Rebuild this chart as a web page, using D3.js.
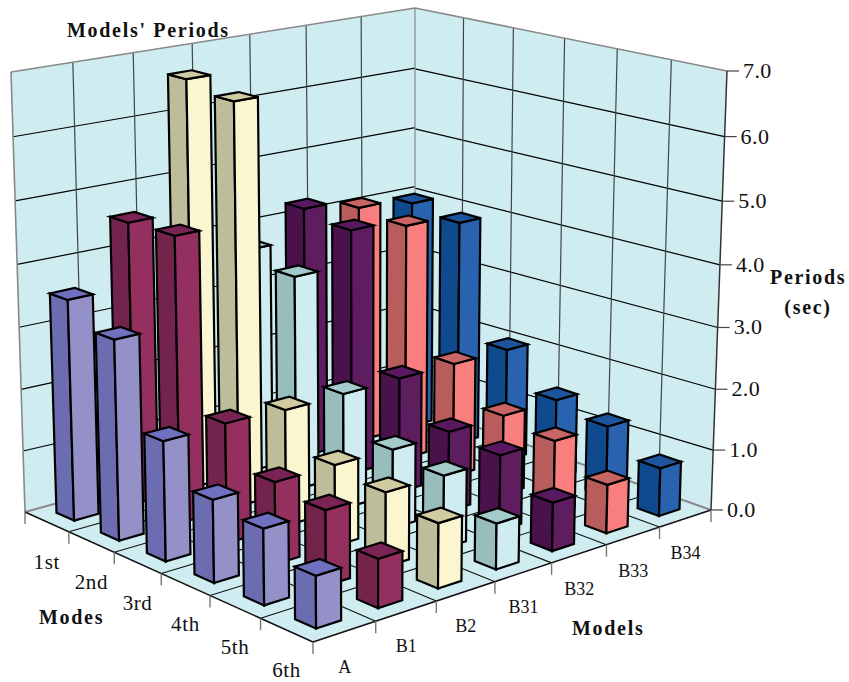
<!DOCTYPE html>
<html><head><meta charset="utf-8">
<style>html,body{margin:0;padding:0;background:#fff}svg{display:block}text{font-family:"Liberation Serif",serif;fill:#111}</style>
<script src="https://cdnjs.cloudflare.com/ajax/libs/d3/7.8.5/d3.min.js"></script>
</head><body><script>
const models=["A","B1","B2","B31","B32","B33","B34"];
const modes=["1st","2nd","3rd","4th","5th","6th"];
const seriesA=[3.56,3.2,1.9,1.3,1.18,0.8];
const seriesB1=[4.57,4.6,1.92,1.3,1.18,0.76];
const seriesB2=[6.65,6.5,1.88,1.3,1.18,1.02];
const seriesB31=[3.72,3.53,1.89,1.28,1.17,0.73];
const seriesB32=[4.2,4.08,1.9,1.31,1.23,0.78];
const seriesB33=[4.02,3.95,1.9,1.32,1.2,0.79];
const seriesB34=[3.9,3.8,1.9,1.33,1.18,0.79];
const allSeries=[seriesA,seriesB1,seriesB2,seriesB31,seriesB32,seriesB33,seriesB34];
const valueTicks=[0,1,2,3,4,5,6,7];
const leftFaces=["#6C6CB0","#72244C","#BDBD99","#97BDBD","#4A124A","#B85C5C","#104A8E"];
const rightFaces=["#9490C8","#93305F","#FBF6D0","#CFEDF0","#5E1D5E","#F97F7F","#2962AE"];
const topFaces=["#7070C0","#7A2455","#D0CBA0","#A3CBCB","#5A1860","#C96565","#1C559E"];

const W=849,H=682;
const svg=d3.select("body").append("svg").attr("width",W).attr("height",H);
// picture-plane anchors
const F=[313,642],R=[711,510],L=[25,512],Bf=[415,405],Bw=[415,417],L7=[11,72],B7=[415,8],R7=[727,71];
function quad(p0,p1,p2,p3){
  const dx1=p1[0]-p2[0],dx2=p3[0]-p2[0],sx=p0[0]-p1[0]+p2[0]-p3[0];
  const dy1=p1[1]-p2[1],dy2=p3[1]-p2[1],sy=p0[1]-p1[1]+p2[1]-p3[1];
  const den=dx1*dy2-dx2*dy1,g=(sx*dy2-dx2*sy)/den,h=(dx1*sy-sx*dy1)/den;
  return {a:p1[0]-p0[0]+g*p1[0],b:p3[0]-p0[0]+h*p3[0],c:p0[0],d:p1[1]-p0[1]+g*p1[1],e:p3[1]-p0[1]+h*p3[1],f:p0[1],g,h};
}
const ap=(m,u,v)=>{const w=m.g*u+m.h*v+1;return [(m.a*u+m.b*v+m.c)/w,(m.d*u+m.e*v+m.f)/w];};
const floorM=quad(F,R,Bf,L);
const leftWall=quad(L,Bw,B7,L7);
const rightWall=quad(Bw,R,R7,B7);
// vertical direction of the projection, fitted to the wall top corners
const yMax=7;
function fitV(){
  const pts=[[0,1,L7],[1,1,B7],[1,0,R7]];const A=[],bb=[];
  pts.forEach(([u,w,t])=>{
    const X=floorM.a*u+floorM.b*w+floorM.c,Y=floorM.d*u+floorM.e*w+floorM.f,Wv=floorM.g*u+floorM.h*w+1;
    A.push([yMax,0,-t[0]*yMax]);bb.push(t[0]*Wv-X);
    A.push([0,yMax,-t[1]*yMax]);bb.push(t[1]*Wv-Y);
  });
  const N=[0,1,2].map(i=>[0,1,2].map(j=>d3.sum(A,r=>r[i]*r[j])).concat(d3.sum(A,(r,k)=>r[i]*bb[k])));
  for(let i=0;i<3;i++){for(let k=i+1;k<3;k++){const f=N[k][i]/N[i][i];for(let j=i;j<4;j++)N[k][j]-=f*N[i][j];}}
  const x=[0,0,0];for(let i=2;i>=0;i--){let s=N[i][3];for(let j=i+1;j<3;j++)s-=N[i][j]*x[j];x[i]=s/N[i][i];}
  return x;
}
const vv=fitV();
const proj=(u,w,y)=>{const m=floorM,d=m.g*u+m.h*w+1+y*vv[2];
  return [(m.a*u+m.b*w+m.c+y*vv[0])/d,(m.d*u+m.e*w+m.f+y*vv[1])/d];};

const yScale=d3.scaleLinear().domain([0,7]).range([0,1]);
const modelEdge=d3.scaleBand().domain(models).range([0,1]);
const modeEdge=d3.scaleBand().domain(modes).range([1,0]);
const PAD=0.6;
const modelBar=d3.scaleBand().domain(models).range([0,1]).paddingInner(PAD).paddingOuter(PAD/2);
const modeBar=d3.scaleBand().domain(modes).range([1,0]).paddingInner(PAD).paddingOuter(PAD/2);
const lineGen=d3.line();
const poly=(sel,pts,fill,stroke,sw)=>sel.append("path").attr("d",lineGen(pts)+"Z").attr("fill",fill).attr("stroke",stroke||"none").attr("stroke-width",sw||0).attr("stroke-linejoin","miter");
const seg=(sel,a,b,stroke,sw)=>sel.append("path").attr("d",lineGen([a,b])).attr("fill","none").attr("stroke",stroke).attr("stroke-width",sw);
const WALL="#CFEDF0";

// walls
const walls=svg.append("g");
poly(walls,[L,Bw,B7,L7],WALL);
poly(walls,[Bw,R,R7,B7],WALL);
valueTicks.forEach(t=>{
  const v=yScale(t);
  if(t>0&&t<7){
    seg(walls,ap(leftWall,0,v),ap(leftWall,1,v),"#000",1.2);
    seg(walls,ap(rightWall,0,v),ap(rightWall,1,v),"#000",1.2);
  }
});
const step=modelEdge.bandwidth(),stepM=modeEdge.bandwidth();
models.forEach((m,i)=>{if(i<models.length-1){const u=modelEdge(m)+step;seg(walls,ap(leftWall,u,0),ap(leftWall,u,1),"#444",1.2);}});
modes.forEach((m,i)=>{if(i<modes.length-1){const u=1-modeEdge(m);seg(walls,ap(rightWall,u,0),ap(rightWall,u,1),"#444",1.2);}});
seg(walls,L7,B7,"#888",1.6);seg(walls,B7,R7,"#888",1.6);seg(walls,L,L7,"#888",1.6);seg(walls,Bw,B7,"#888",1.2);

// floor
const floorG=svg.append("g");
poly(floorG,[F,R,Bf,L],WALL);
models.forEach((m,i)=>{if(i<models.length-1){const u=modelEdge(m)+step;seg(floorG,ap(floorM,u,0),ap(floorM,u,1),"#111",1.1);}});
modes.forEach((m,i)=>{if(i<modes.length-1){const w=modeEdge(m);seg(floorG,ap(floorM,0,w),ap(floorM,1,w),"#111",1.1);}});
seg(floorG,L,Bf,"#888",2);seg(floorG,R,Bf,"#888",2);
seg(floorG,L,F,"#111",1.5);seg(floorG,F,R,"#111",1.5);
seg(floorG,R,R7,"#333",1.5);

// ticks and labels
const axisG=svg.append("g");
valueTicks.forEach(t=>{
  const e=ap(rightWall,1,yScale(t));
  seg(axisG,e,[e[0]+12,e[1]],"#444",1.2);
  axisG.append("text").attr("x",e[0]+16).attr("y",e[1]+7).attr("font-size",22).attr("letter-spacing",0.4).text(d3.format(".1f")(t));
});
seg(axisG,R,[R[0],R[1]+12],"#777",1.4);
models.forEach(m=>{
  const u0=modelEdge(m),a=ap(floorM,u0,0),c=ap(floorM,u0+step/2,0);
  seg(axisG,a,[a[0],a[1]+12],"#777",1.4);
  axisG.append("text").attr("x",c[0]).attr("y",c[1]+41).attr("text-anchor","middle").attr("font-size",18).text(m);
});
modes.forEach(m=>{
  const w0=modeEdge(m),a=ap(floorM,0,w0+stepM),c=ap(floorM,0,w0+stepM/2);
  seg(axisG,a,[a[0],a[1]+12],"#777",1.4);
  axisG.append("text").attr("x",c[0]).attr("y",c[1]+47).attr("text-anchor","middle").attr("font-size",21).attr("letter-spacing",0.6).text(m);
});

// bars, back to front
const barsG=svg.append("g");
const bw=modelBar.bandwidth(),bm=modeBar.bandwidth();
modes.forEach((mode,mi)=>{
  d3.range(models.length-1,-1,-1).forEach(k=>{
    const val=allSeries[k][mi],u0=modelBar(models[k]),u1=u0+bw,w0=modeBar(mode),w1=w0+bm;
    const g=barsG.append("g").attr("class","bar");
    const near0=proj(u0,w0,0),near1=proj(u0,w0,val),lf0=proj(u0,w1,0),lf1=proj(u0,w1,val),rt0=proj(u1,w0,0),rt1=proj(u1,w0,val),bk1=proj(u1,w1,val);
    poly(g,[near0,lf0,lf1,near1],leftFaces[k],"#000",2.2);
    poly(g,[near0,rt0,rt1,near1],rightFaces[k],"#000",2.2);
    poly(g,[near1,lf1,bk1,rt1],topFaces[k],"#000",2.2);
  });
});

// titles
const bold=(x,y,t,anchor)=>svg.append("text").attr("x",x).attr("y",y).attr("text-anchor",anchor||"start").attr("font-size",20).attr("font-weight","bold").attr("letter-spacing",1.7).text(t);
bold(67,37,"Models' Periods");
bold(770,284,"Periods");
bold(808,314,"(sec)","middle");
bold(39,624,"Modes");
bold(572,635,"Models");
</script></body></html>
